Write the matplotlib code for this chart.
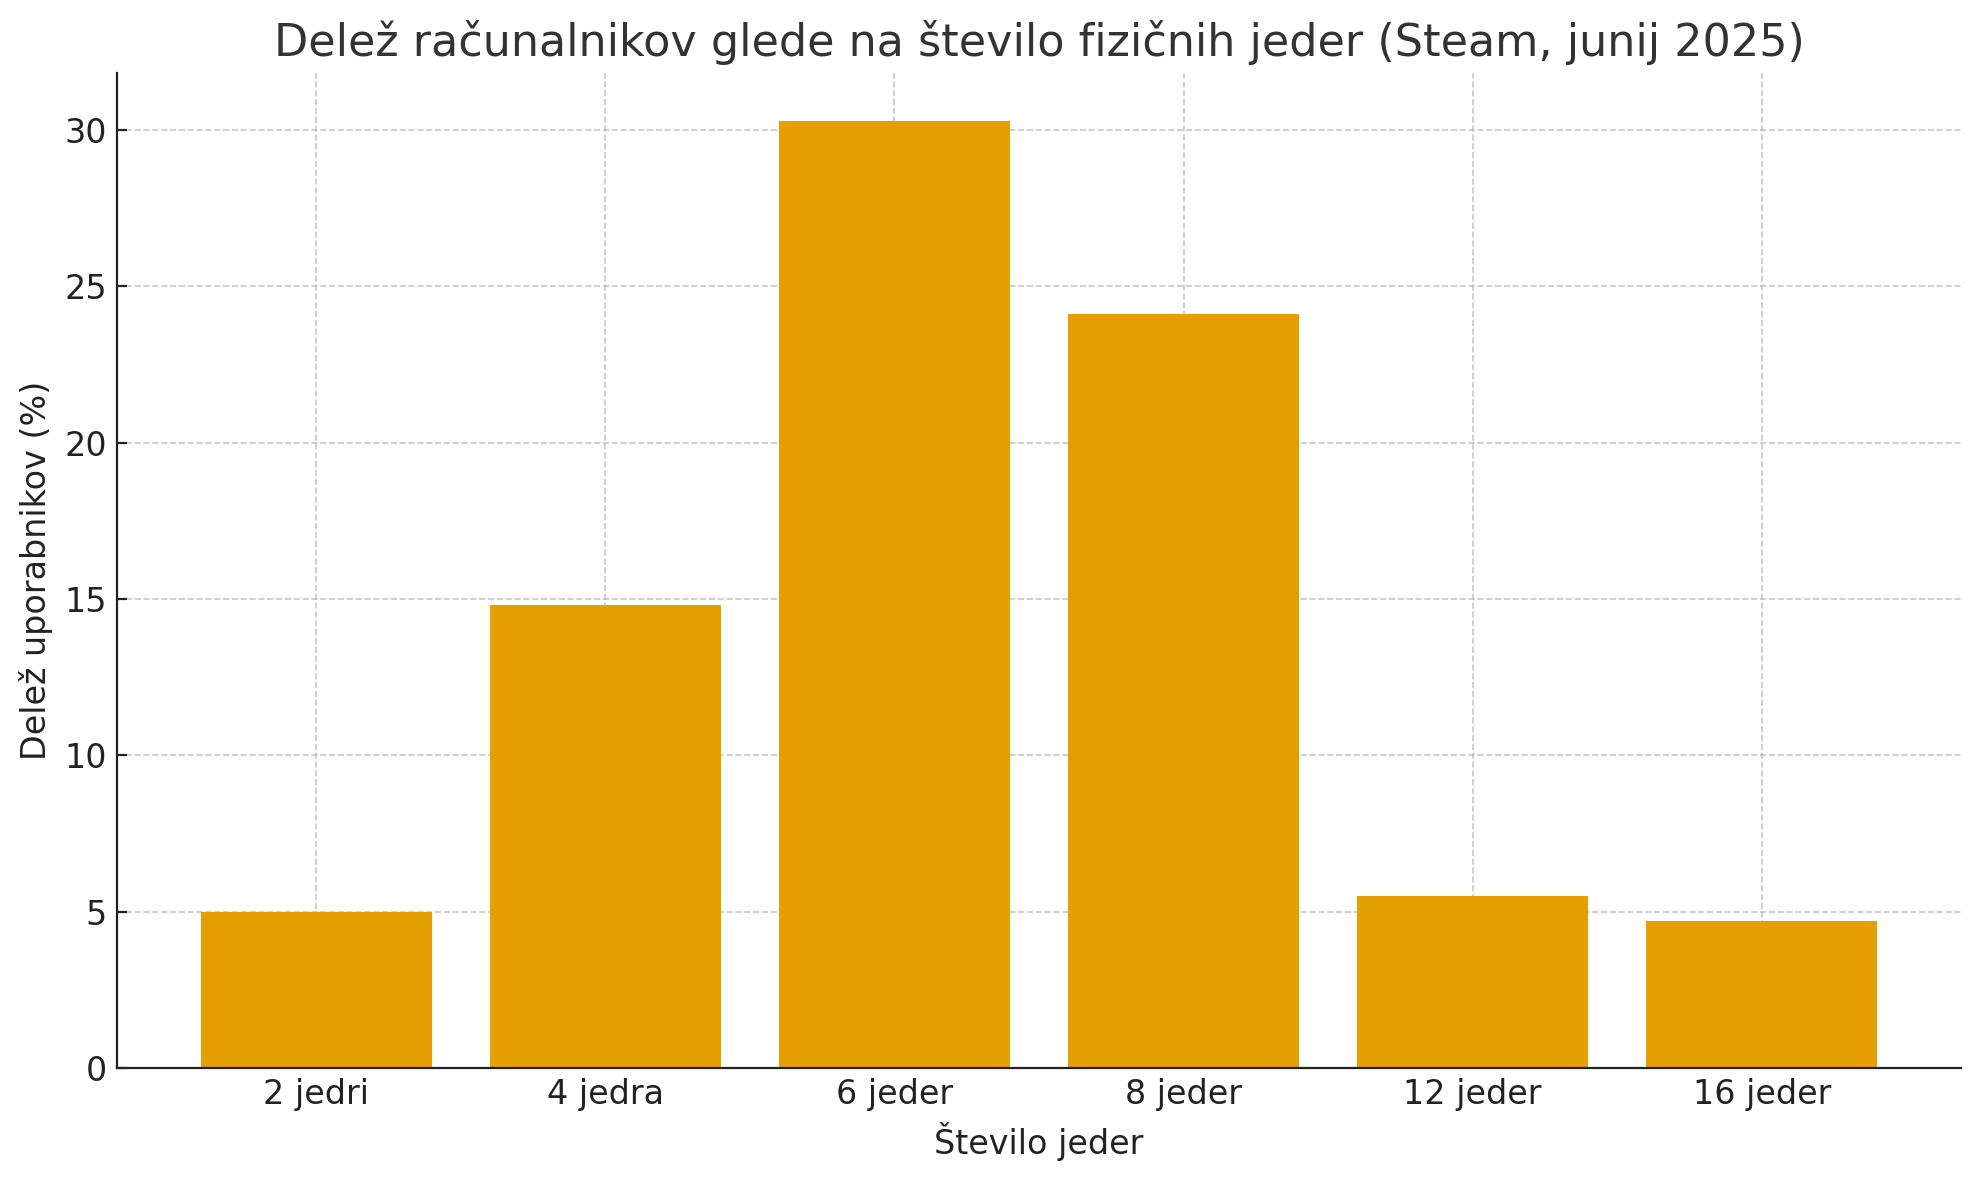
import matplotlib.pyplot as plt

categories = ['2 jedri', '4 jedra', '6 jeder', '8 jeder', '12 jeder', '16 jeder']
shares = [5.0, 14.8, 30.3, 24.1, 5.5, 4.7]

fig, ax = plt.subplots(figsize=(9.895, 5.9), dpi=200)
fig.subplots_adjust(left=0.059, right=0.991, top=0.938, bottom=0.095)

ax.bar(categories, shares, color='#E69F00', zorder=2)
ax.grid(True, linestyle='--', color='#b0b0b0', alpha=0.7, linewidth=0.6, zorder=0)

ax.set_title('Delež računalnikov glede na število fizičnih jeder (Steam, junij 2025)',
             fontsize=16, color='#333333')
ax.set_xlabel('Število jeder', fontsize=12, color='#222222')
ax.set_ylabel('Delež uporabnikov (%)', fontsize=12, color='#222222')
ax.tick_params(labelsize=12, direction='in', colors='#222222')
ax.spines['top'].set_visible(False)
ax.spines['right'].set_visible(False)
for s in ('left', 'bottom'):
    ax.spines[s].set_color('#222222')

plt.savefig('out.png', dpi=200)
